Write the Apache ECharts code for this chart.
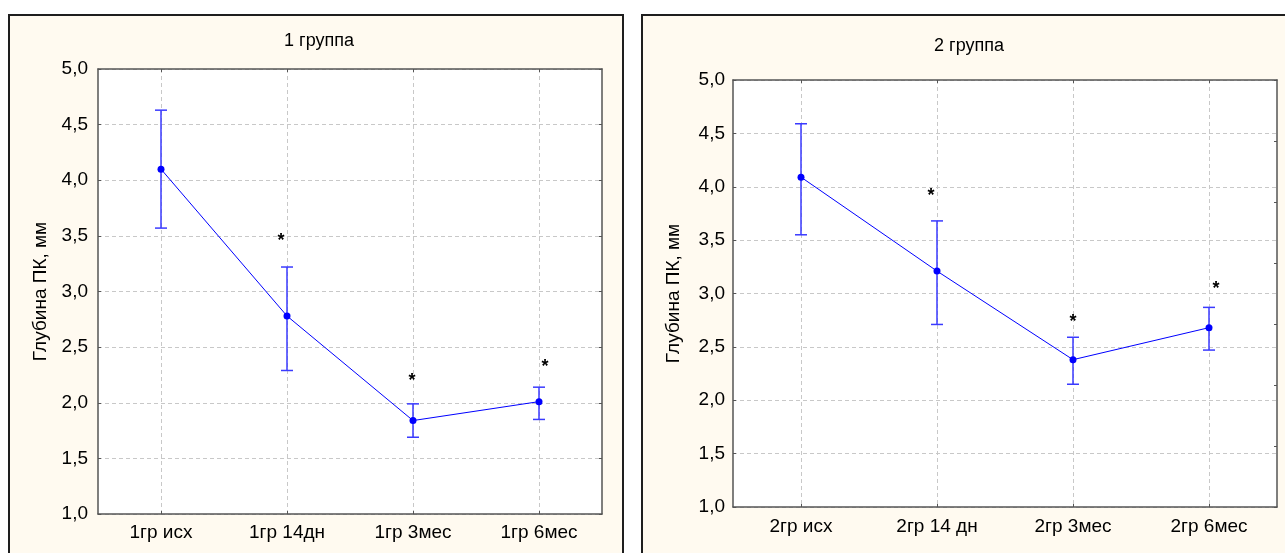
<!DOCTYPE html>
<html>
<head>
<meta charset="utf-8">
<script src="https://cdn.jsdelivr.net/npm/echarts@6/dist/echarts.min.js"></script>
<style>
  html, body { margin: 0; padding: 0; background: #ffffff; width: 1285px; height: 553px; overflow: hidden; }
  .panel { position: absolute; box-sizing: border-box; background: #FFFAF0; border: 2px solid #1e1e1e; }
  #p1 { left: 8px; top: 14px; width: 616px; height: 620px; }
  #p2 { left: 641px; top: 14px; width: 700px; height: 620px; }
  #chart { position: absolute; left: 0; top: 0; width: 1285px; height: 553px; }
</style>
</head>
<body>
<div class="panel" id="p1"></div>
<div class="panel" id="p2"></div>
<div id="chart"></div>
<script>
// ---- Data ----
const titles = ['1 группа', '2 группа'];
const yName = 'Глубина ПК, мм';
const yTicks = [1.0, 1.5, 2.0, 2.5, 3.0, 3.5, 4.0, 4.5, 5.0];

const cats1 = ['1гр исх', '1гр 14дн', '1гр 3мес', '1гр 6мес'];
const mean1 = [4.10, 2.78, 1.84, 2.01];
const upper1 = [4.63, 3.22, 1.99, 2.14];
const lower1 = [3.57, 2.29, 1.69, 1.85];
const star1 = [null, 3.50, 2.24, 2.37];

const cats2 = ['2гр исх', '2гр 14 дн', '2гр 3мес', '2гр 6мес'];
const mean2 = [4.09, 3.21, 2.38, 2.68];
const upper2 = [4.59, 3.68, 2.59, 2.87];
const lower2 = [3.55, 2.71, 2.15, 2.47];
const star2 = [null, 3.96, 2.78, 3.09];

// ---- Styling / layout ----
const FONT = '"Liberation Sans", Arial, sans-serif';
const gridLine = { show: true, lineStyle: { color: '#c8c8c8', width: 1, type: [4, 3] } };
const axisLineStyle = { show: true, onZero: false, lineStyle: { color: '#555', width: 1.5 } };
const yFmt = v => v.toFixed(1).replace('.', ',');
const FS = 19;

const panels = [
  { cats: cats1, mean: mean1, upper: upper1, lower: lower1, star: star1,
    grid: { left: 98, top: 69, width: 504, height: 445 },
    title: { x: 319, y: 32 }, nameGap: 48, labelMargin: 10, xMargin: 9,
    starDx: [0, -6, -1, 6], right: { min: 1, max: 5, interval: 0.5 } },
  { cats: cats2, mean: mean2, upper: upper2, lower: lower2, star: star2,
    grid: { left: 733, top: 80, width: 544, height: 427 },
    title: { x: 969, y: 37 }, nameGap: 50, labelMargin: 8, xMargin: 10,
    starDx: [0, -6, 0, 7], right: { min: 0, max: 7, interval: 1 } }
];

const option = {
  animation: false,
  backgroundColor: 'transparent',
  textStyle: { fontFamily: FONT },
  title: [], grid: [], xAxis: [], yAxis: [], series: []
};

panels.forEach((p, gi) => {
  option.title.push({
    text: titles[gi], left: p.title.x, top: p.title.y, textAlign: 'center', padding: 0,
    textStyle: { fontFamily: FONT, fontSize: 18, fontWeight: 'normal', color: '#000' }
  });
  option.grid.push(Object.assign({ show: true, backgroundColor: '#ffffff', borderWidth: 0 }, p.grid));
  option.xAxis.push({
    type: 'category', gridIndex: gi, data: p.cats, boundaryGap: true, position: 'bottom',
    axisLine: axisLineStyle,
    axisTick: { show: true, alignWithLabel: true, inside: true, length: 3, lineStyle: { color: '#555' } },
    axisLabel: { color: '#000', fontSize: FS, fontFamily: FONT, margin: p.xMargin },
    splitLine: Object.assign({ alignWithLabel: true }, gridLine)
  });
  option.xAxis.push({
    type: 'category', gridIndex: gi, data: p.cats, boundaryGap: true, position: 'top',
    axisLine: axisLineStyle,
    axisTick: { show: true, alignWithLabel: true, inside: true, length: 3, lineStyle: { color: '#555' } },
    axisLabel: { show: false }, splitLine: { show: false }
  });
  option.yAxis.push({
    type: 'value', gridIndex: gi, min: yTicks[0], max: yTicks[yTicks.length - 1], interval: 0.5,
    position: 'left',
    name: yName, nameLocation: 'middle', nameGap: p.nameGap, nameRotate: 90,
    nameTextStyle: { fontSize: FS, fontFamily: FONT, color: '#000' },
    axisLine: axisLineStyle,
    axisTick: { show: true, inside: true, length: 3, lineStyle: { color: '#555' } },
    axisLabel: { color: '#000', fontSize: FS, fontFamily: FONT, margin: p.labelMargin, formatter: yFmt },
    splitLine: gridLine
  });
  option.yAxis.push({
    type: 'value', gridIndex: gi, min: p.right.min, max: p.right.max, interval: p.right.interval,
    position: 'right',
    axisLine: axisLineStyle,
    axisTick: { show: true, inside: true, length: 3, lineStyle: { color: '#555' } },
    axisLabel: { show: false }, splitLine: { show: false }
  });
  const xi = gi * 2, yi = gi * 2;
  option.series.push({
    type: 'custom', xAxisIndex: xi, yAxisIndex: yi, z: 3,
    data: p.cats.map((c, i) => [i, p.lower[i], p.upper[i]]),
    encode: { x: 0, y: [1, 2] },
    renderItem: (params, api) => {
      const x = api.value(0);
      const lo = api.coord([x, api.value(1)]);
      const hi = api.coord([x, api.value(2)]);
      const st = { stroke: '#3a3aff', lineWidth: 1.5 };
      const w = 6;
      return { type: 'group', children: [
        { type: 'line', shape: { x1: lo[0], y1: lo[1], x2: hi[0], y2: hi[1] }, style: st },
        { type: 'line', shape: { x1: hi[0] - w, y1: hi[1], x2: hi[0] + w, y2: hi[1] }, style: st },
        { type: 'line', shape: { x1: lo[0] - w, y1: lo[1], x2: lo[0] + w, y2: lo[1] }, style: st }
      ]};
    }
  });
  option.series.push({
    type: 'line', xAxisIndex: xi, yAxisIndex: yi, z: 4, data: p.mean,
    symbol: 'circle', symbolSize: 7, showSymbol: true,
    lineStyle: { color: '#0000ff', width: 1 }, itemStyle: { color: '#0000ff' }
  });
  // significance stars (text drawn at scale coordinates, nudged beside the bar)
  const starDx = p.starDx;
  option.series.push({
    type: 'custom', xAxisIndex: xi, yAxisIndex: yi, z: 5,
    data: p.star.map((v, i) => v == null ? null : [i, v]).filter(d => d),
    encode: { x: 0, y: 1 },
    renderItem: (params, api) => {
      const i = api.value(0);
      const pt = api.coord([i, api.value(1)]);
      return { type: 'text', style: {
        text: '*', x: pt[0] + starDx[i], y: pt[1] + 5,
        align: 'center', verticalAlign: 'middle',
        font: 'bold 18px ' + FONT, fill: '#000'
      }};
    }
  });
});

const chart = echarts.init(document.getElementById('chart'), null, { renderer: 'canvas' });
chart.setOption(option);
</script>
</body>
</html>
